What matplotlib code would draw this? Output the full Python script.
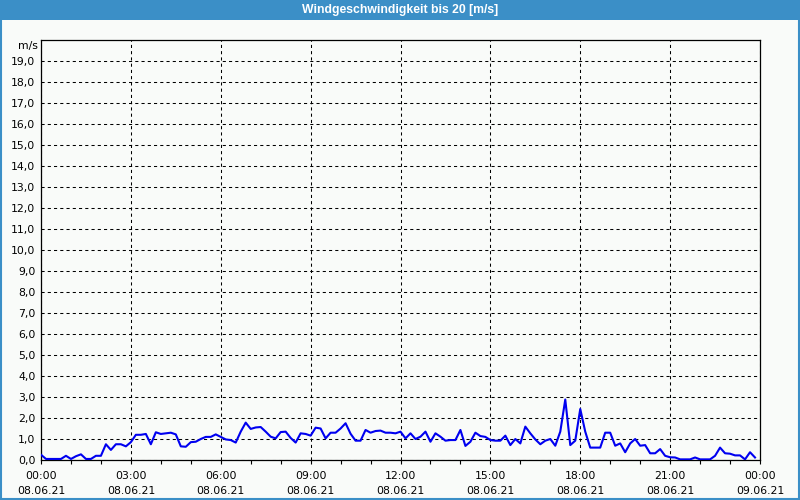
import numpy as np
import matplotlib
matplotlib.use("Agg")
import matplotlib.pyplot as plt
from matplotlib.patches import Rectangle
from matplotlib.lines import Line2D

title = "Windgeschwindigkeit bis 20 [m/s]"
unit_label = "m/s"

# wind speed samples, every 10 minutes from 08.06.21 00:00
wind = [
    0.25, 0.05, 0.05, 0.05, 0.05, 0.20, 0.05, 0.18, 0.27, 0.05, 0.05, 0.20,
    0.20, 0.75, 0.48, 0.75, 0.75, 0.65, 0.85, 1.20, 1.20, 1.24, 0.75, 1.32,
    1.24, 1.27, 1.30, 1.22, 0.65, 0.63, 0.85, 0.87, 1.00, 1.10, 1.10, 1.22,
    1.10, 0.98, 0.95, 0.83, 1.35, 1.78, 1.48, 1.55, 1.57, 1.35, 1.11, 1.03,
    1.33, 1.35, 1.05, 0.83, 1.27, 1.24, 1.16, 1.54, 1.50, 1.03, 1.30, 1.30,
    1.50, 1.75, 1.25, 0.92, 0.92, 1.43, 1.30, 1.38, 1.40, 1.30, 1.30, 1.27,
    1.35, 1.03, 1.27, 1.00, 1.11, 1.35, 0.87, 1.27, 1.11, 0.92, 0.95, 0.95,
    1.43, 0.67, 0.87, 1.30, 1.14, 1.10, 0.95, 0.92, 0.92, 1.16, 0.71, 1.00,
    0.79, 1.59, 1.27, 0.98, 0.75, 0.92, 1.00, 0.68, 1.35, 2.88, 0.71, 0.92,
    2.43, 1.35, 0.59, 0.59, 0.59, 1.30, 1.30, 0.68, 0.79, 0.37, 0.79, 1.00,
    0.68, 0.71, 0.32, 0.32, 0.52, 0.20, 0.13, 0.12, 0.03, 0.03, 0.03, 0.12,
    0.03, 0.03, 0.03, 0.20, 0.59, 0.32, 0.30, 0.22, 0.22, 0.03, 0.37, 0.12,
]
sample_minutes = 10

x_tick_hours = [0, 3, 6, 9, 12, 15, 18, 21, 24]
x_tick_labels = ["00:00\n08.06.21", "03:00\n08.06.21", "06:00\n08.06.21",
                 "09:00\n08.06.21", "12:00\n08.06.21", "15:00\n08.06.21",
                 "18:00\n08.06.21", "21:00\n08.06.21", "00:00\n09.06.21"]
y_ticks = list(range(0, 20))
y_tick_labels = [f"{v},0" for v in y_ticks]

hours = np.arange(len(wind)) * sample_minutes / 60.0

BLUE = "#3b8fc7"
BG = "#f9fbf9"
FONT = "DejaVu Sans"

fig = plt.figure(figsize=(8, 5), dpi=100, facecolor=BG)
ax = fig.add_axes([41 / 800, 40 / 500, 719 / 800, 420 / 500])
ax.set_facecolor(BG)

ax.plot(hours, wind, color="#0000f0", lw=1.5, solid_joinstyle="round", zorder=3)

ax.set_xlim(0, 24)
ax.set_ylim(0, 20)
ax.set_xticks(x_tick_hours)
ax.set_xticklabels(x_tick_labels, fontsize=7.8, family=FONT, linespacing=1.65)
ax.set_xticks(range(0, 25), minor=True)
ax.set_yticks(y_ticks)
ax.set_yticklabels(y_tick_labels, fontsize=7.8, family=FONT)

ax.tick_params(axis="x", which="both", direction="out", length=3, width=0.8,
               color="black", pad=5)
ax.tick_params(axis="y", length=0, pad=4)

ax.grid(True, which="major", color="black", lw=0.75, linestyle=(0, (3, 3)))
for s in ax.spines.values():
    s.set_color("black")
    s.set_linewidth(0.9)

ax.text(-0.005, 19.7, unit_label, transform=ax.get_yaxis_transform(),
        ha="right", va="center", fontsize=7.8, family=FONT)

# title bar and frame
fig.patches.append(Rectangle((0, 480 / 500), 1, 20 / 500, transform=fig.transFigure,
                             facecolor=BLUE, edgecolor="none", zorder=0))
fig.text(0.5, 489.5 / 500, title, ha="center", va="center", color="white",
         fontsize=8.8, fontweight="bold",
         family=["Liberation Sans Narrow", "Liberation Sans"])
for xs, ys in [([0.7 / 800, 0.7 / 800], [0, 1]),
               ([799.3 / 800, 799.3 / 800], [0, 1]),
               ([0, 1], [0.7 / 500, 0.7 / 500])]:
    fig.lines.append(Line2D(xs, ys, transform=fig.transFigure, color=BLUE, lw=1.5))

fig.savefig("out.png", dpi=100, facecolor=BG)
